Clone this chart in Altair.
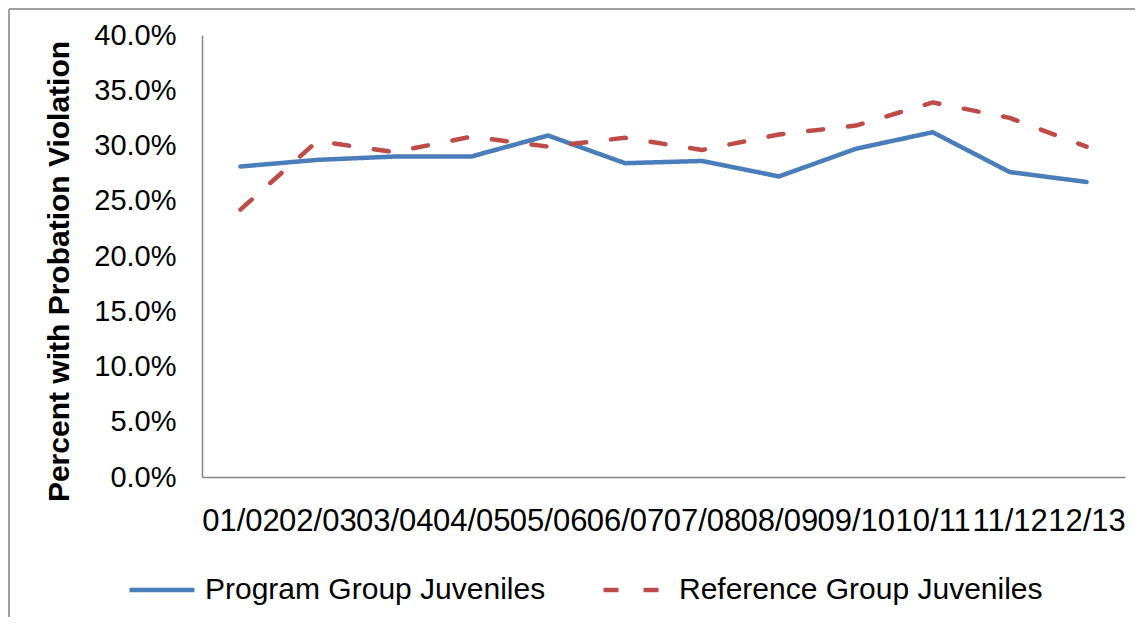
import altair as alt
import pandas as pd

years = ["01/02", "02/03", "03/04", "04/05", "05/06", "06/07",
         "07/08", "08/09", "09/10", "10/11", "11/12", "12/13"]
program = [0.281, 0.287, 0.290, 0.290, 0.309, 0.284,
           0.286, 0.272, 0.297, 0.312, 0.276, 0.267]
reference = [0.242, 0.304, 0.294, 0.308, 0.299, 0.307,
             0.296, 0.310, 0.318, 0.339, 0.325, 0.299]
series_names = ["Program Group Juveniles", "Reference Group Juveniles"]
y_ticks = [0.0, 0.05, 0.10, 0.15, 0.20, 0.25, 0.30, 0.35, 0.40]

rows = []
for i, yr in enumerate(years):
    rows.append({"year": yr, "series": series_names[0], "value": program[i]})
    rows.append({"year": yr, "series": series_names[1], "value": reference[i]})
df = pd.DataFrame(rows)

W, H = 923, 442
FONT = "Liberation Sans"

legend_def = dict(title=None, orient="none", direction="horizontal",
                  legendX=-75, legendY=520, labelFontSize=30, labelFont=FONT,
                  labelColor="#000000", symbolType="stroke", symbolSize=4225,
                  symbolStrokeWidth=4.5, labelOffset=8, columnPadding=48,
                  labelLimit=500)

lines = alt.Chart(df).mark_line(strokeWidth=4.5, strokeCap="round", strokeJoin="round").encode(
    x=alt.X("year:N", sort=years, scale=alt.Scale(type="point", padding=0.5),
            axis=alt.Axis(title=None, labelAngle=0, ticks=False, labelPadding=29,
                          labelFontSize=31, labelFont=FONT, labelColor="#000000",
                          domainColor="#868686", domainWidth=1.5, grid=False)),
    y=alt.Y("value:Q", scale=alt.Scale(domain=[0, 0.4], nice=False, zero=True),
            axis=alt.Axis(values=y_ticks, format=".1%", ticks=False, grid=False,
                          labelPadding=26, labelFontSize=29, labelFont=FONT,
                          labelColor="#000000", domainColor="#868686", domainWidth=1.5,
                          title="Percent with Probation Violation", titleFont=FONT,
                          titleFontSize=30, titleFontWeight="bold", titleColor="#000000",
                          titleAngle=-90, titleX=-143, titleY=H / 2 + 15,
                          titleAlign="center", titleBaseline="middle")),
    color=alt.Color("series:N", scale=alt.Scale(domain=series_names, range=["#4A7EBB", "#BE4B48"]),
                    legend=alt.Legend(**legend_def)),
    strokeDash=alt.StrokeDash("series:N", scale=alt.Scale(domain=series_names, range=[[1, 0], [15, 25]]),
                              legend=alt.Legend(**legend_def)),
)

border_left = alt.Chart(pd.DataFrame({"a": [0]})).mark_rule(color="#A0A0A0", strokeWidth=2).encode(
    x=alt.value(-193), y=alt.value(-26), y2=alt.value(H + 145))
border_top = alt.Chart(pd.DataFrame({"a": [0]})).mark_rule(color="#A0A0A0", strokeWidth=2).encode(
    x=alt.value(-193), x2=alt.value(W + 20), y=alt.value(-26))

chart = alt.layer(border_left, border_top, lines).properties(
    width=W, height=H,
    autosize=alt.AutoSizeParams(type="none"),
    padding={"left": 194, "top": 27, "right": 10, "bottom": 140},
    background="white",
).configure_view(stroke=None)

chart.save("out.html", embed_options={"renderer": "svg", "actions": False})
